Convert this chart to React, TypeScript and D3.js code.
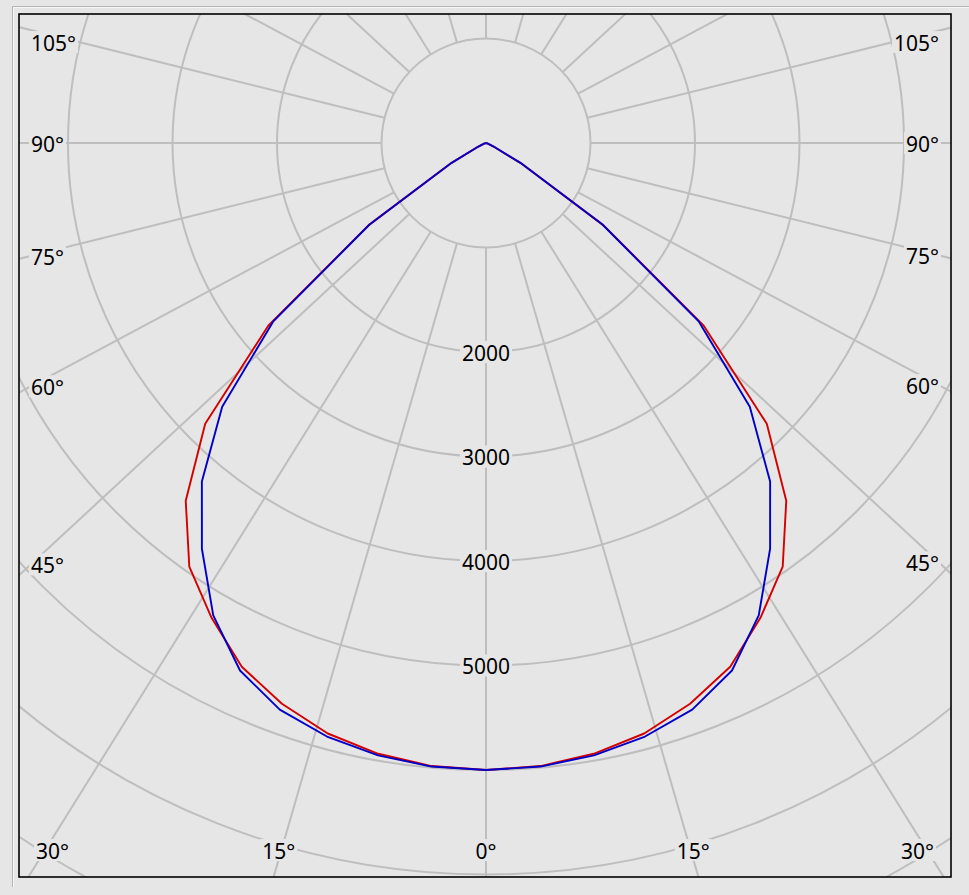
import React from 'react';
import * as d3 from 'd3';

// luminous intensity (cd) per gamma angle, each curve is symmetric
const angles = [0, 5, 10, 15, 20, 25, 30, 35, 40, 45, 50, 55, 60, 65, 70, 75, 80, 85, 90];
const redValues = [6000, 5985, 5935, 5850, 5710, 5530, 5250, 4950, 4470, 3800, 2720, 1370, 380, 80, 20, 0, 0, 0, 0];
const blueValues = [6000, 5990, 5950, 5880, 5770, 5570, 5220, 4740, 4230, 3570, 2660, 1360, 380, 80, 20, 0, 0, 0, 0];

const ringValues = [1000, 2000, 3000, 4000, 5000, 6000, 7000, 8000];
const ringLabels = [2000, 3000, 4000, 5000];
const spokeAngles = [0, 15, 30, 45, 60, 75, 90, 105, 120, 135, 150, 165, 180, 195, 210, 225, 240, 255, 270, 285, 300, 315, 330, 345];
const sideLabels = [45, 60, 75, 90, 105];
const bottomLabels = [0, 15, 30];

const useD3 = (renderFn: Function, deps: Array<unknown>) => {
  const ref = React.useRef<SVGSVGElement>(null);
  React.useEffect(() => {
    renderFn(d3.select(ref.current));
  }, deps); // eslint-disable-line
  return ref;
};

function PolarChart() {
  const width = 969;
  const height = 895;
  const frame = { left: 19, top: 14, right: 951, bottom: 877 };
  const cx = 486;
  const cy = 143;

  const ref = useD3(
    // @ts-ignore
    (svg) => {
      svg.selectAll('*').remove();
      const bg = '#e6e6e6';
      const gridColor = '#bebebe';
      const font = "'Noto Sans', 'Liberation Sans', Arial, sans-serif";

      const r = d3.scaleLinear().domain([0, 1000]).range([0, 104.5]);
      // the spokes in the original are drawn slightly wider than true angles
      const stretch = 1.08;
      const dir = (deg: number) => {
        const a = (deg * Math.PI) / 180;
        const x = stretch * Math.sin(a);
        const y = Math.cos(a);
        const n = Math.hypot(x, y);
        return [x / n, y / n];
      };

      svg.append('rect').attr('width', width).attr('height', height).attr('fill', bg);

      // outer panel edge
      svg.append('path').attr('d', `M12.5,887V6.5H969`).attr('fill', 'none').attr('stroke', '#b4b4b4');
      svg.append('path').attr('d', `M13.5,887V7.5H969`).attr('fill', 'none').attr('stroke', '#f6f6f6');

      svg
        .append('clipPath')
        .attr('id', 'frameClip')
        .append('rect')
        .attr('x', frame.left)
        .attr('y', frame.top)
        .attr('width', frame.right - frame.left)
        .attr('height', frame.bottom - frame.top);

      const plot = svg.append('g').attr('clip-path', 'url(#frameClip)');

      // rings
      plot
        .append('g')
        .selectAll('circle')
        .data(ringValues)
        .join('circle')
        .attr('cx', cx)
        .attr('cy', cy)
        .attr('r', (d: number) => r(d))
        .attr('fill', 'none')
        .attr('stroke', gridColor)
        .attr('stroke-width', 2);

      // spokes start at the first ring
      plot
        .append('g')
        .selectAll('line')
        .data(spokeAngles)
        .join('line')
        .attr('x1', (d: number) => cx + dir(d)[0] * r(1000))
        .attr('y1', (d: number) => cy + dir(d)[1] * r(1000))
        .attr('x2', (d: number) => cx + dir(d)[0] * 1200)
        .attr('y2', (d: number) => cy + dir(d)[1] * 1200)
        .attr('stroke', gridColor)
        .attr('stroke-width', 2);

      const labels = plot.append('g');
      // @ts-ignore
      const addLabel = (text: string, anchor: string, place: (w: number) => [number, number]) => {
        const t = labels
          .append('text')
          .attr('font-family', font)
          .attr('font-size', 21)
          .attr('fill', '#000')
          .attr('text-anchor', anchor)
          .attr('dy', '0.42em')
          .text(text);
        const w = t.node().getComputedTextLength();
        const [x, y] = place(w);
        t.attr('x', x).attr('y', y);
        const left = anchor === 'start' ? x : anchor === 'end' ? x - w : x - w / 2;
        labels
          .insert('rect', () => t.node())
          .attr('x', left - 2)
          .attr('y', y - 11)
          .attr('width', w + 4)
          .attr('height', 22)
          .attr('fill', bg);
      };

      ringLabels.forEach((v) => addLabel(String(v), 'middle', () => [cx, cy + r(v)]));

      sideLabels.forEach((a) => {
        [-1, 1].forEach((side) => {
          const [ux, uy] = dir(a);
          const x = side < 0 ? frame.left + 12 : frame.right - 12;
          const t = Math.abs(x - cx) / ux;
          const y = Math.max(frame.top + 28, Math.min(frame.bottom - 27, cy + t * uy));
          addLabel(`${a}°`, side < 0 ? 'start' : 'end', () => [x, y]);
        });
      });

      bottomLabels.forEach((a) => {
        const sides = a === 0 ? [1] : [-1, 1];
        sides.forEach((side) => {
          const [ux, uy] = dir(a);
          const yEdge = frame.bottom - 18;
          addLabel(`${a}°`, 'middle', (w: number) => {
            let x = cx + side * ((yEdge - cy) / uy) * ux;
            x = Math.max(frame.left + 17 + w / 2, Math.min(frame.right - 17 - w / 2, x));
            return [x, frame.bottom - 27];
          });
        });
      });

      // curves
      const toPoints = (values: number[]) => [
        ...angles.slice(1).reverse().map((a, i) => ({ a: -a, v: values[angles.length - 1 - i] })),
        ...angles.map((a, i) => ({ a, v: values[i] })),
      ];
      const line = d3
        .lineRadial()
        // @ts-ignore
        .angle((d) => Math.PI - (d.a * Math.PI) / 180)
        // @ts-ignore
        .radius((d) => r(d.v));

      const curves = plot.append('g').attr('transform', `translate(${cx},${cy})`);
      curves
        .append('path')
        .attr('d', line(toPoints(redValues) as any))
        .attr('fill', 'none')
        .attr('stroke', '#d40000')
        .attr('stroke-width', 1.9)
        .attr('stroke-linejoin', 'round');
      curves
        .append('path')
        .attr('d', line(toPoints(blueValues) as any))
        .attr('fill', 'none')
        .attr('stroke', '#0000c8')
        .attr('stroke-width', 1.9)
        .attr('stroke-linejoin', 'round');

      svg
        .append('rect')
        .attr('x', frame.left)
        .attr('y', frame.top)
        .attr('width', frame.right - frame.left)
        .attr('height', frame.bottom - frame.top)
        .attr('fill', 'none')
        .attr('stroke', '#000')
        .attr('stroke-width', 1.6);
    },
    []
  );

  return <svg ref={ref} width={width} height={height} style={{ display: 'block' }} />;
}

export default function App() {
  return (
    <>
      <style>{`body{margin:0;background:#e6e6e6}`}</style>
      <PolarChart />
    </>
  );
}
